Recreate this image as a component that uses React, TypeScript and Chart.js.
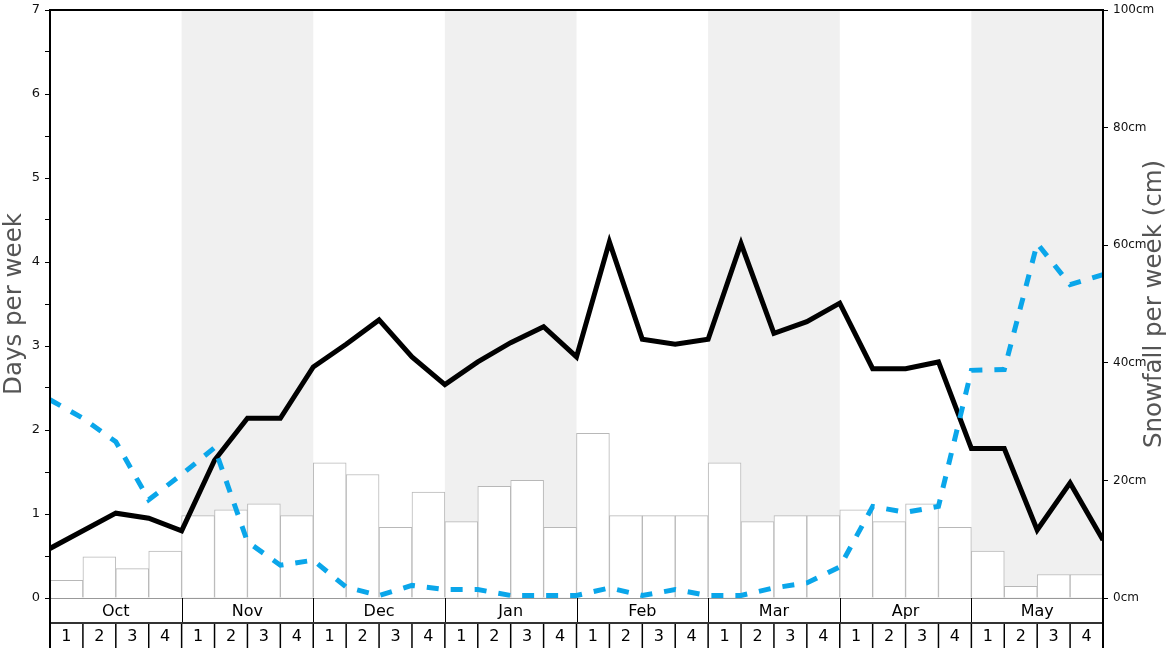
import { useEffect, useRef } from 'react';
import { Chart, registerables } from 'chart.js';

Chart.register(...registerables);

// ---- Data ----
const months = ['Oct', 'Nov', 'Dec', 'Jan', 'Feb', 'Mar', 'Apr', 'May'];
const weekLabels = ['1', '2', '3', '4'];
const shadedMonths = ['Nov', 'Jan', 'Mar', 'May'];

// snowfall per week (cm), one per week
const snowfallCm = [
  3, 7, 5, 8,
  14, 15, 16, 14,
  23, 21, 12, 18,
  13, 19, 20, 12,
  28, 14, 14, 14,
  23, 13, 14, 14,
  15, 13, 16, 12,
  8, 2, 4, 4,
];

// days per week, values at week boundaries (33 points)
const snowDays = [
  0.59, 0.8, 1.01, 0.95, 0.8,
  1.64, 2.14, 2.14, 2.75,
  3.02, 3.31, 2.87, 2.54,
  2.81, 3.04, 3.23, 2.87,
  4.24, 3.08, 3.02, 3.08,
  4.22, 3.15, 3.29, 3.51,
  2.73, 2.73, 2.81, 1.78,
  1.78, 0.81, 1.37, 0.69,
];

const otherDays = [
  2.36, 2.14, 1.86, 1.17, 1.47,
  1.79, 0.67, 0.39, 0.45,
  0.13, 0.03, 0.15, 0.1,
  0.1, 0.03, 0.03, 0.03,
  0.12, 0.03, 0.1, 0.03,
  0.03, 0.12, 0.18, 0.37,
  1.09, 1.02, 1.09, 2.71,
  2.72, 4.22, 3.73, 3.85,
];

const daysAxis = { min: 0, max: 7, step: 0.5 };
const snowAxis = { min: 0, max: 100, step: 20 };

const leftTitle = 'Days per week';
const rightTitle = 'Snowfall per week (cm)';

const FONT = 'DejaVu Sans';
const weeksTotal = months.length * weekLabels.length;

const decorPlugin = {
  id: 'decor',
  beforeDraw(chart: any) {
    const { ctx, chartArea: a, scales } = chart;
    const x = scales.x;
    ctx.save();
    ctx.fillStyle = '#f0f0f0';
    months.forEach((m, i) => {
      if (!shadedMonths.includes(m)) return;
      const x0 = x.getPixelForValue(i * weekLabels.length);
      const x1 = x.getPixelForValue((i + 1) * weekLabels.length);
      ctx.fillRect(x0, a.top, x1 - x0, a.bottom - a.top);
    });
    ctx.restore();
  },
  afterDraw(chart: any) {
    const { ctx, chartArea: a, scales } = chart;
    const x = scales.x;
    const rowH = 25;
    const r1 = a.bottom;
    const r2 = a.bottom + rowH;
    const r3 = a.bottom + rowH * 2;
    ctx.save();

    // x axis base line
    ctx.strokeStyle = '#999';
    ctx.lineWidth = 1;
    ctx.beginPath();
    ctx.moveTo(a.left, r1 + 0.5);
    ctx.lineTo(a.right, r1 + 0.5);
    ctx.stroke();

    // month separators
    ctx.strokeStyle = '#000';
    ctx.lineWidth = 1;
    for (let m = 1; m < months.length; m++) {
      const px = Math.round(x.getPixelForValue(m * weekLabels.length)) + 0.5;
      ctx.beginPath();
      ctx.moveTo(px, r1);
      ctx.lineTo(px, r2);
      ctx.stroke();
    }
    // week separators
    ctx.lineWidth = 1.5;
    for (let w = 1; w < weeksTotal; w++) {
      const px = x.getPixelForValue(w);
      ctx.beginPath();
      ctx.moveTo(px, r2);
      ctx.lineTo(px, r3);
      ctx.stroke();
    }
    // row divider
    ctx.strokeStyle = '#333';
    ctx.lineWidth = 2;
    ctx.beginPath();
    ctx.moveTo(a.left, r2);
    ctx.lineTo(a.right, r2);
    ctx.stroke();

    // frame: top, left, right
    ctx.strokeStyle = '#000';
    ctx.lineWidth = 2;
    ctx.beginPath();
    ctx.moveTo(a.left, a.top);
    ctx.lineTo(a.right, a.top);
    ctx.stroke();
    ctx.beginPath();
    ctx.moveTo(a.left, a.top - 1);
    ctx.lineTo(a.left, r3);
    ctx.stroke();
    ctx.beginPath();
    ctx.moveTo(a.right, a.top - 1);
    ctx.lineTo(a.right, r3);
    ctx.stroke();

    // labels
    ctx.fillStyle = '#000';
    ctx.font = `16px "${FONT}"`;
    ctx.textAlign = 'center';
    ctx.textBaseline = 'middle';
    months.forEach((m, i) => {
      const cx = x.getPixelForValue(i * weekLabels.length + weekLabels.length / 2);
      ctx.fillText(m, cx, (r1 + r2) / 2 + 1);
      weekLabels.forEach((wl, j) => {
        const wx = x.getPixelForValue(i * weekLabels.length + j + 0.5);
        ctx.fillText(wl, wx, (r2 + r3) / 2 + 1);
      });
    });

    // right axis title (reads bottom to top)
    const y2 = scales.y2;
    ctx.fillStyle = '#555';
    ctx.font = `24.5px "${FONT}"`;
    ctx.translate(y2.right - 13, (a.top + a.bottom) / 2);
    ctx.rotate(-Math.PI / 2);
    ctx.fillText(rightTitle, 0, 0);
    ctx.restore();
  },
};

export default function App() {
  const ref = useRef<HTMLCanvasElement>(null);

  useEffect(() => {
    if (!ref.current) return;
    Chart.defaults.font.family = FONT;
    const chart = new Chart(ref.current, {
      type: 'line',
      data: {
        datasets: [
          {
            type: 'line',
            data: otherDays.map((v, i) => ({ x: i, y: v })),
            borderColor: '#0aa6ea',
            borderWidth: 5,
            borderDash: [12, 12],
            pointRadius: 0,
            fill: false,
            yAxisID: 'y',
            xAxisID: 'x',
            order: 1,
          },
          {
            type: 'line',
            data: snowDays.map((v, i) => ({ x: i, y: v })),
            borderColor: '#000',
            borderWidth: 5,
            pointRadius: 0,
            fill: false,
            yAxisID: 'y',
            xAxisID: 'x',
            order: 2,
          },
          {
            type: 'bar',
            data: snowfallCm.map((v, i) => ({ x: i + 0.5, y: v })),
            backgroundColor: '#ffffff',
            borderColor: '#b8b8b8',
            borderWidth: 1,
            barPercentage: 1,
            categoryPercentage: 1,
            yAxisID: 'y2',
            xAxisID: 'x',
            order: 3,
          } as any,
        ],
      },
      options: {
        responsive: false,
        animation: false,
        layout: { padding: { top: 10, bottom: 50, left: 0, right: 0 } },
        plugins: { legend: { display: false }, tooltip: { enabled: false } },
        scales: {
          x: {
            type: 'linear',
            min: 0,
            max: weeksTotal,
            offset: false,
            display: false,
          },
          y: {
            position: 'left',
            min: daysAxis.min,
            max: daysAxis.max,
            afterFit: (s: any) => { s.width = 50; s.paddingTop = 0; s.paddingBottom = 0; },
            ticks: {
              stepSize: daysAxis.step,
              autoSkip: false,
              padding: 5,
              color: '#111',
              font: { size: 13 },
              callback: (v: any) => (Number.isInteger(v) ? String(v) : ''),
            },
            grid: { drawOnChartArea: false, tickLength: 5, color: '#000', lineWidth: 1 },
            border: { display: false },
            title: { display: true, text: leftTitle, color: '#555', font: { size: 24.5 }, padding: 0 },
          },
          y2: {
            position: 'right',
            min: snowAxis.min,
            max: snowAxis.max,
            afterFit: (s: any) => { s.width = 65; s.paddingTop = 0; s.paddingBottom = 0; },
            ticks: {
              stepSize: snowAxis.step,
              padding: 5,
              color: '#111',
              font: { size: 12 },
              callback: (v: any) => `${v}cm`,
            },
            grid: { drawOnChartArea: false, tickLength: 5, color: '#000', lineWidth: 1 },
            border: { display: false },
          },
        },
      },
      plugins: [decorPlugin],
    } as any);
    return () => chart.destroy();
  }, []);

  return (
    <div style={{ position: 'absolute', left: 0, top: 0, width: 1168, height: 648 }}>
      <canvas ref={ref} width={1168} height={648} style={{ display: 'block' }} />
    </div>
  );
}
